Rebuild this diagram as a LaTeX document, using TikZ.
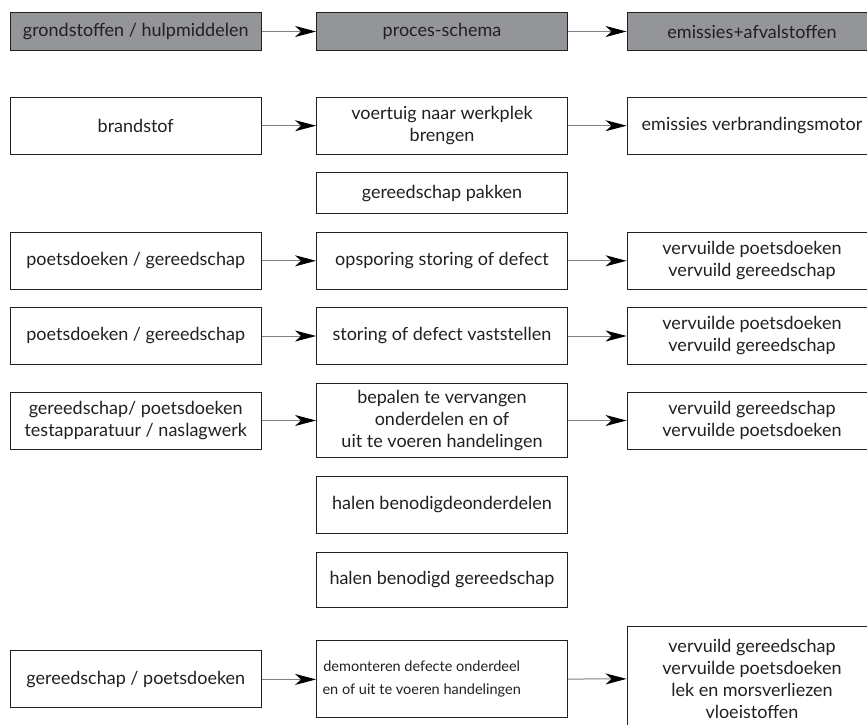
\documentclass[tikz,border=0pt]{standalone}
\usepackage{fontspec}
\setmainfont{Lato}
\usepackage{xcolor}
\usepackage{tikz}
\usetikzlibrary{arrows.meta, calc}
\definecolor{headgray}{HTML}{949599}
\definecolor{inkgray}{HTML}{231F20}
\newcommand{\headcolor}{headgray}

\begin{document}
\begin{tikzpicture}[x=1pt, y=-1pt, every node/.style={text=inkgray, font=\fontsize{18}{22}\selectfont}]
	\tikzstyle{stepbox}=[rectangle, draw=inkgray, line width=0.9pt, align=center, inner sep=2pt, minimum width=251pt, minimum height=57pt]
	\tikzstyle{headbox}=[stepbox, fill=\headcolor, minimum height=38pt]
	\tikzstyle{flow}=[draw=gray, line width=1pt, -{Stealth[length=21pt, width=11pt, inset=6pt, color=black]}]
	\useasboundingbox (0,0) rectangle (867,724);

	% kopregel
	\node (h01) at (135.75,31.5) [headbox]{grondstoffen / hulpmiddelen};
	\node (h02) at (442,31.5) [headbox]{proces-schema};
	\node (h03) at (752,31.5) [headbox, minimum width=250pt]{emissies+afvalstoffen};
	\draw[flow] (h01) -- (h02);
	\draw[flow] (h02) -- (h03);

	% rij 1
	\node (i01) at (135.75,125.7) [stepbox]{brandstof};
	\node (p01) at (442,125.7) [stepbox]{voertuig naar werkplek\\brengen};
	\node (e01) at (752,125.7) [stepbox, minimum width=250pt]{emissies verbrandingsmotor};
	\draw[flow] (i01) -- (p01);
	\draw[flow] (p01) -- (e01);

	\node (p02) at (442,193.4) [stepbox, minimum height=41pt]{gereedschap pakken};

	% rij 3
	\node (i03) at (135.75,260.8) [stepbox]{poetsdoeken / gereedschap};
	\node (p03) at (442,260.8) [stepbox]{opsporing storing of defect};
	\node (e03) at (752,260.8) [stepbox, minimum width=250pt]{vervuilde poetsdoeken\\vervuild gereedschap};
	\draw[flow] (i03) -- (p03);
	\draw[flow] (p03) -- (e03);

	% rij 4
	\node (i04) at (135.75,336) [stepbox]{poetsdoeken / gereedschap};
	\node (p04) at (442,336) [stepbox]{storing of defect vaststellen};
	\node (e04) at (752,336) [stepbox, minimum width=250pt]{vervuilde poetsdoeken\\vervuild gereedschap};
	\draw[flow] (i04) -- (p04);
	\draw[flow] (p04) -- (e04);

	% rij 5
	\node (i05) at (135.75,420.5) [stepbox]{gereedschap/ poetsdoeken\\testapparatuur / naslagwerk};
	\node (p05) at (442,420.5) [stepbox, minimum height=74pt]{bepalen te vervangen\\onderdelen en of\\uit te voeren handelingen};
	\node (e05) at (752,420.5) [stepbox, minimum width=250pt]{vervuild gereedschap\\vervuilde poetsdoeken};
	\draw[flow] (i05) -- (p05);
	\draw[flow] (p05) -- (e05);

	\node (p06) at (442,505) [stepbox]{halen benodigdeonderdelen};
	\node (p07) at (442,580) [stepbox, minimum height=55pt]{halen benodigd gereedschap};

	% rij 8
	\node (i08) at (135.75,679.4) [stepbox]{gereedschap / poetsdoeken};
	\node (p08) at (442,679.4) [stepbox, minimum height=77pt]{};
	\node (p08t) at ($(p08.west)+(3,0)$) [anchor=west, align=center, font=\fontsize{14.5}{23}\selectfont]{demonteren defecte onderdeel\\en of uit te voeren handelingen};
	\node (e08) at (752,678.5) [stepbox, minimum width=250pt, minimum height=104pt]{vervuild gereedschap\\vervuilde poetsdoeken\\lek en morsverliezen\\vloeistoffen};
	\draw[flow] (i08) -- (p08);
	\draw[flow] (p08) -- (e08);
\end{tikzpicture}
\end{document}
